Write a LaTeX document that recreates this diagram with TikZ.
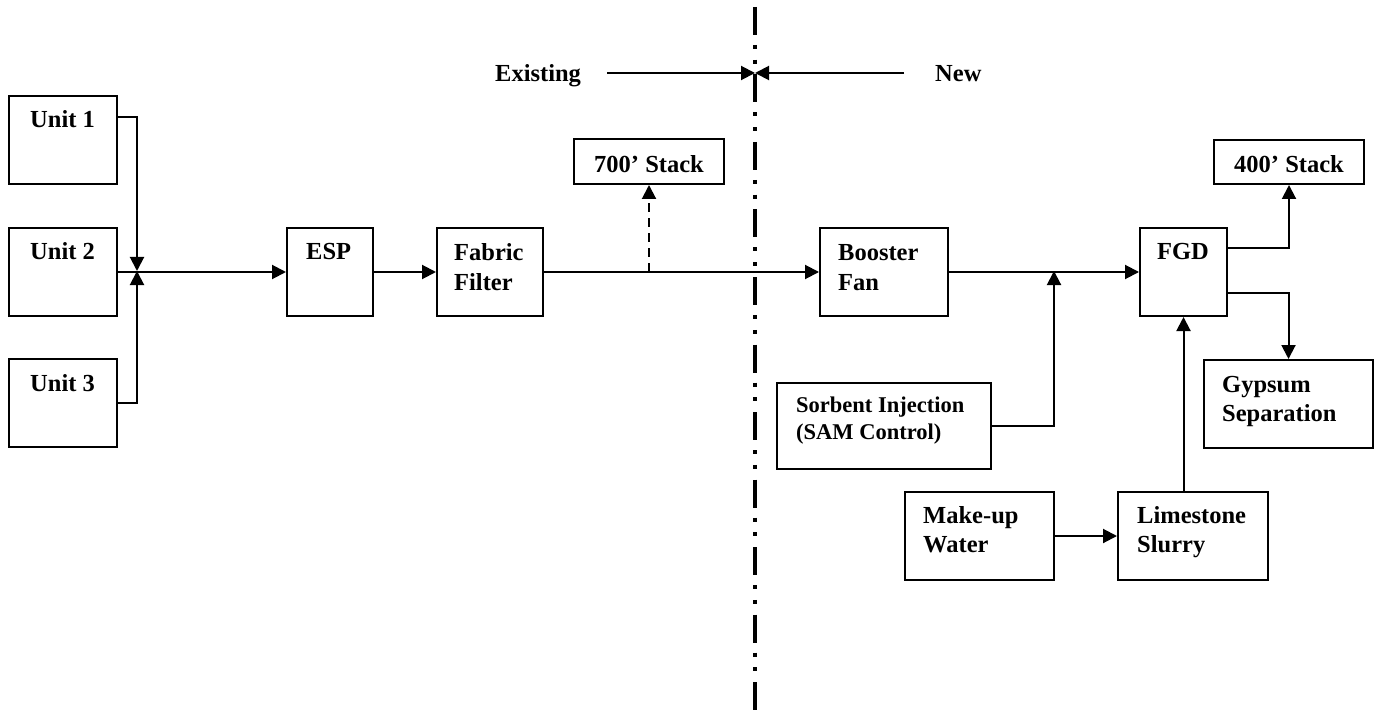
\documentclass[tikz,border=0pt]{standalone}
\usepackage{fontspec}
\setmainfont{Liberation Serif}
\usetikzlibrary{arrows.meta,calc}
\tikzset{
  box/.style={draw, line width=2pt, inner sep=0pt, anchor=north west},
  txt/.style={anchor=base west, inner sep=0pt, align=left, font=\fontsize{24.5}{29.5}\selectfont\bfseries},
  smalltxt/.style={anchor=base west, inner sep=0pt, align=left, font=\fontsize{22.5}{27}\selectfont\bfseries},
  ctxt/.style={anchor=base, inner sep=0pt, font=\fontsize{24.5}{29.5}\selectfont\bfseries},
  arr/.style={line width=2pt, -{Triangle[length=14pt,width=14pt]}},
  divider/.style={line width=3.5pt, dash pattern=on 28pt off 10pt on 4pt off 10.75pt on 4pt off 10.75pt}
}
\begin{document}
\begin{tikzpicture}[x=1pt,y=-1pt]
\useasboundingbox (0,0) rectangle (1375,711);

% boxes
\node[box, minimum width=108pt, minimum height=88pt] (u1) at (8,95) {};
\node[box, minimum width=108pt, minimum height=88pt] (u2) at (8,227) {};
\node[box, minimum width=108pt, minimum height=88pt] (u3) at (8,358) {};
\node[box, minimum width=86pt, minimum height=88pt] (esp) at (286,227) {};
\node[box, minimum width=106pt, minimum height=88pt] (fab) at (436,227) {};
\node[box, minimum width=150pt, minimum height=45pt] (s700) at (573,138) {};
\node[box, minimum width=128pt, minimum height=88pt] (boost) at (819,227) {};
\node[box, minimum width=87pt, minimum height=88pt] (fgd) at (1139,227) {};
\node[box, minimum width=150pt, minimum height=44pt] (s400) at (1213,139) {};
\node[box, minimum width=169pt, minimum height=88pt] (gyp) at (1203,359) {};
\node[box, minimum width=214pt, minimum height=86pt] (sorb) at (776,382) {};
\node[box, minimum width=149pt, minimum height=88pt] (mkw) at (904,491) {};
\node[box, minimum width=150pt, minimum height=88pt] (lime) at (1117,491) {};

% texts (base of last line)
\node[txt] (tu1) at ($(u1.north west)+(22,33)$) {Unit 1};
\node[txt] (tu2) at ($(u2.north west)+(22,33)$) {Unit 2};
\node[txt] (tu3) at ($(u3.north west)+(22,33)$) {Unit 3};
\node[txt] (tesp) at ($(esp.north west)+(20,33)$) {ESP};
\node[txt] (tfab) at ($(fab.north west)+(18,63)$) {Fabric\\Filter};
\node[ctxt] (ts700) at ($(s700.south)+(0,-12)$) {700’ Stack};
\node[txt] (tboost) at ($(boost.north west)+(19,63.5)$) {Booster\\Fan};
\node[txt] (tfgd) at ($(fgd.north west)+(18,33)$) {FGD};
\node[ctxt] (ts400) at ($(s400.south)+(0,-12)$) {400’ Stack};
\node[txt] (tgyp) at ($(gyp.north west)+(19,62.5)$) {Gypsum\\Separation};
\node[smalltxt] (tsorb) at ($(sorb.north west)+(20,57)$) {Sorbent Injection\\(SAM Control)};
\node[txt] (tmkw) at ($(mkw.north west)+(19,61.5)$) {Make-up\\Water};
\node[txt] (tlime) at ($(lime.north west)+(20,61.5)$) {Limestone\\Slurry};

\node[txt] (exist) at (495,82) {Existing};
\node[txt] (new) at (935,82) {New};

% coordinates
\coordinate (J) at (137,271);
\coordinate (M) at (1054,271);
\coordinate (DV) at (755,73);
\coordinate (EA) at (607,73);
\coordinate (NA) at (904,73);
\coordinate (DT) at (755,7);
\coordinate (DB) at (755,711);

% divider
\draw[divider] (DT) -- (DB);
\draw[arr] (EA) -- (DV);
\draw[arr] (NA) -- (DV);

% connectors
\draw[arr] ($(u1.north east)+(0,22)$) -| (J);
\draw[arr] ($(u3.north east)+(0,45)$) -| (J);
\draw[arr] (u2.east) -- (esp.west);
\draw[arr] (esp.east) -- (fab.west);
\draw[arr] (fab.east) -- (boost.west);
\draw[arr, dash pattern=on 9pt off 6pt] (s700.south |- fab.east) -- (s700.south);
\draw[arr] (boost.east) -- (fgd.west);
\draw[arr] (sorb.east) -| (M);
\draw[arr] ($(fgd.north east)+(-2,21)$) -| (s400.south);
\draw[arr] ($(fgd.north east)+(-2,66)$) -| (gyp.north);
\draw[arr] (fgd.south |- lime.north) -- (fgd.south);
\draw[arr] (mkw.east) -- (lime.west);
\end{tikzpicture}
\end{document}
